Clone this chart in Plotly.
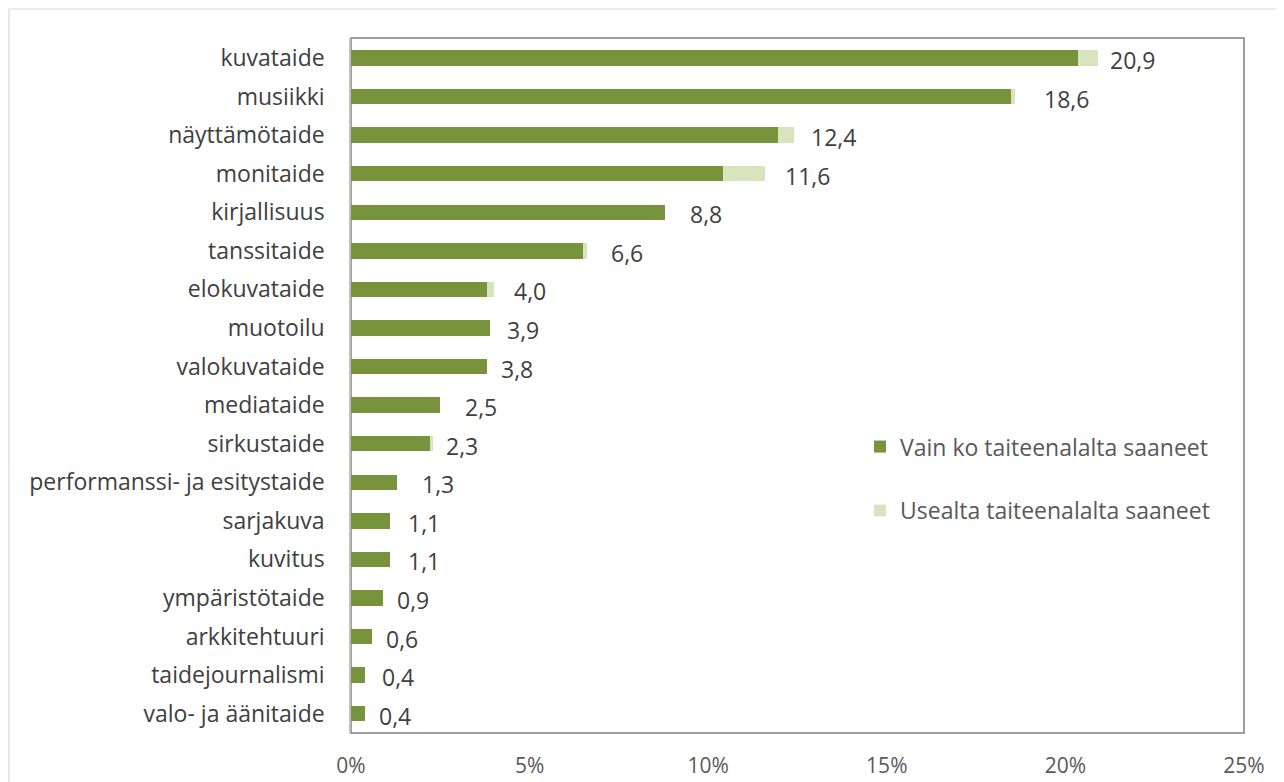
import plotly.graph_objects as go

categories = ["kuvataide", "musiikki", "näyttämötaide", "monitaide", "kirjallisuus",
              "tanssitaide", "elokuvataide", "muotoilu", "valokuvataide", "mediataide",
              "sirkustaide", "performanssi- ja esitystaide", "sarjakuva", "kuvitus",
              "ympäristötaide", "arkkitehtuuri", "taidejournalismi", "valo- ja äänitaide"]
only_one = [20.35, 18.48, 11.95, 10.41, 8.8, 6.5, 3.82, 3.9, 3.8, 2.5,
            2.22, 1.3, 1.1, 1.1, 0.9, 0.6, 0.4, 0.4]
several = [0.55, 0.12, 0.45, 1.19, 0.0, 0.1, 0.18, 0.0, 0.0, 0.0,
           0.08, 0.0, 0.0, 0.0, 0.0, 0.0, 0.0, 0.0]
totals = [20.9, 18.6, 12.4, 11.6, 8.8, 6.6, 4.0, 3.9, 3.8, 2.5,
          2.3, 1.3, 1.1, 1.1, 0.9, 0.6, 0.4, 0.4]
label_gap_px = [13, 30, 18, 21, 26, 25, 21, 18, 15, 26, 14, 26, 19, 19, 15, 15, 18, 15]
series_names = ["Vain ko taiteenalalta saaneet", "Usealta taiteenalalta saaneet"]
x_ticks = [0, 5, 10, 15, 20, 25]
x_tick_labels = ["0%", "5%", "10%", "15%", "20%", "25%"]

FONT = "Open Sans"
DARK = "#77933C"
LIGHT = "#D7E4BD"

fig = go.Figure()
fig.add_trace(go.Bar(y=categories, x=only_one, orientation="h", name=series_names[0],
                     marker=dict(color=DARK, line=dict(width=0)), legendgroup="a"))
fig.add_trace(go.Bar(y=categories, x=several, orientation="h", name=series_names[1],
                     marker=dict(color=LIGHT, line=dict(width=0)), legendgroup="b"))

for cat, tot, gap in zip(categories, totals, label_gap_px):
    fig.add_annotation(x=tot, y=cat, xref="x", yref="y", text=f"{tot:.1f}".replace(".", ","),
                       showarrow=False, xanchor="left", yanchor="middle", xshift=gap - 3, yshift=-2,
                       font=dict(family=FONT, size=23, color="#404040"))

# plot-area border
fig.add_shape(type="rect", xref="paper", yref="paper", x0=0, x1=1, y0=0, y1=1,
              line=dict(color="#7F7F7F", width=1.5), layer="below")
# outer chart border
fig.add_shape(type="rect", xref="paper", yref="paper", x0=-0.383, x1=1.06, y0=-0.1, y1=1.0417,
              line=dict(color="#D9D9D9", width=1.2), layer="below")

fig.update_layout(
    width=1276, height=774,
    margin=dict(l=343, r=40, t=30, b=49),
    paper_bgcolor="white", plot_bgcolor="white",
    barmode="stack", bargap=0.6,
    showlegend=True,
    legend=dict(x=0.57, y=0.443, xanchor="left", yanchor="top", traceorder="grouped",
                tracegroupgap=31, font=dict(family=FONT, size=23, color="#595959"),
                bgcolor="rgba(0,0,0,0)"),
    font=dict(family=FONT, color="#404040"),
)
fig.update_xaxes(range=[0, 25], tickvals=x_ticks, ticktext=x_tick_labels, showgrid=False,
                 zeroline=False, showline=False, ticks="", ticklabelstandoff=18, automargin=False,
                 tickfont=dict(family=FONT, size=21, color="#595959"))
fig.update_yaxes(categoryorder="array", categoryarray=categories, autorange="reversed",
                 showgrid=False, zeroline=False, showline=True, linecolor="#BFBFBF", linewidth=1.5,
                 ticks="", ticklabelstandoff=20, automargin=False,
                 tickfont=dict(family=FONT, size=23, color="#404040"))

fig.write_html("out.html")
